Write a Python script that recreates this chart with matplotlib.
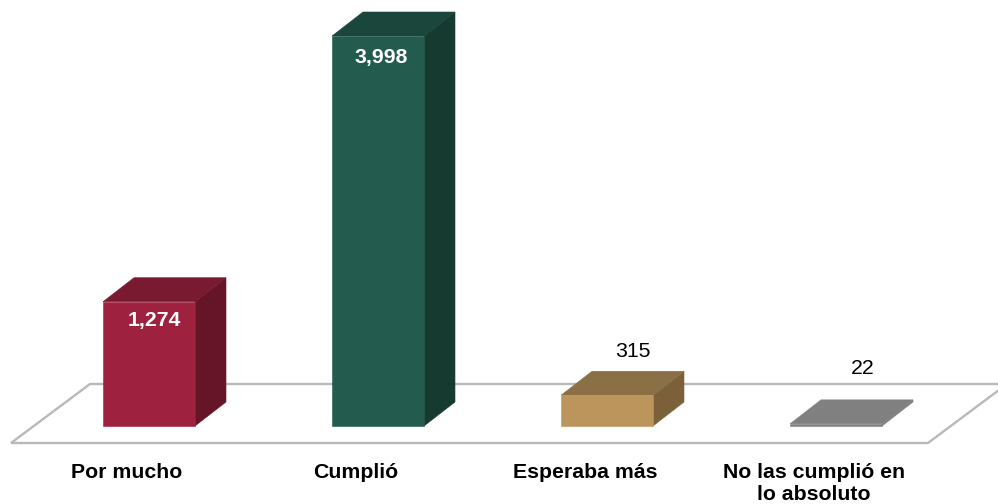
import matplotlib
matplotlib.use("Agg")
import matplotlib.pyplot as plt
from matplotlib.patches import Polygon

categories = ["Por mucho", "Cumplió", "Esperaba más", "No las cumplió en\nlo absoluto"]
values = [1274, 3998, 315, 22]
value_labels = ["1,274", "3,998", "315", "22"]
front_colors = ["#9E2140", "#235C4E", "#BC955C", "#808080"]
top_colors = ["#7A1A30", "#1B463B", "#8C7045", "#808080"]
side_colors = ["#661428", "#173A30", "#7A6139", "#808080"]
label_colors = ["white", "white", "black", "black"]
label_weights = ["bold", "bold", "normal", "normal"]

plt.rcParams["font.family"] = ["Liberation Sans", "DejaVu Sans"]
W, H = 998, 504
fig = plt.figure(figsize=(W / 100, H / 100), dpi=100)
ax = fig.add_axes([0, 0, 1, 1])

# scale: category spacing and value scale in pixels
x0_px, step_px = 149.0, 229.0
base_px, per_unit = 426.0, 390.0 / 3998
ax.set_xlim(-x0_px / step_px, (W - x0_px) / step_px)
ax.set_ylim(-(H - base_px) / per_unit, base_px / per_unit)
ax.axis("off")

dx = 31 / step_px
dy = 24 / per_unit
width = 92 / step_px

# floor
fl, fr = -138 / step_px, 779 / step_px
f_front = -17 / per_unit
f_back = 42 / per_unit
f_shift = 79 / step_px
ax.add_patch(Polygon([(fl, f_front), (fr, f_front), (fr + f_shift, f_back), (fl + f_shift, f_back)],
                     closed=True, facecolor="white", edgecolor="#B9B9B9", linewidth=1.7,
                     joinstyle="miter", zorder=1, clip_on=True))

xs = list(range(len(values)))
ax.bar(xs, values, width=width, color=front_colors, edgecolor=front_colors, linewidth=0.4, zorder=3)
for x, v, tc, sc in zip(xs, values, top_colors, side_colors):
    l, r = x - width / 2, x + width / 2
    ax.add_patch(Polygon([(r, 0), (r + dx, dy), (r + dx, v + dy), (r, v)],
                         closed=True, facecolor=sc, edgecolor=sc, linewidth=0.4, zorder=2))
    ax.add_patch(Polygon([(l, v), (r, v), (r + dx, v + dy), (l + dx, v + dy)],
                         closed=True, facecolor=tc, edgecolor=tc, linewidth=0.4, zorder=2))

# value labels
offsets = [(5, -24), (3, -27), (26, 38), (27, 50)]
for x, v, s, c, w, off in zip(xs, values, value_labels, label_colors, label_weights, offsets):
    ax.annotate(s, (x, v), xytext=off, textcoords="offset pixels", ha="center", va="baseline",
                color=c, fontweight=w, fontsize=15.3, zorder=5)

# category labels
for x, s in zip(xs, categories):
    ax.annotate(s, (x, 0), xytext=(-22, -37), textcoords="offset pixels", ha="center", va="top",
                fontweight="bold", fontsize=15.3, color="black", linespacing=1.2, zorder=5,
                annotation_clip=False)

fig.savefig("out.png", dpi=100, facecolor="white")
